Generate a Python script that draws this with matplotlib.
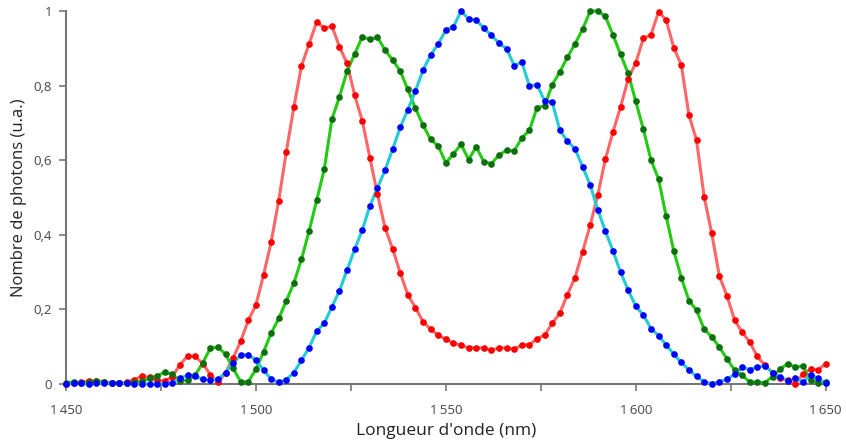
import matplotlib
matplotlib.use("Agg")
import matplotlib.pyplot as plt
import numpy as np
from matplotlib.ticker import FuncFormatter, MultipleLocator

plt.rcParams['font.family'] = ['Open Sans', 'DejaVu Sans']

# wavelength grid (nm), one sample every 2 nm
wavelength = np.arange(1450, 1651, 2)

red = [0.000, 0.002, 0.005, 0.008, 0.008, 0.006, 0.003, 0.002, 0.005, 0.012,
       0.021, 0.018, 0.010, 0.008, 0.020, 0.052, 0.075, 0.074, 0.055, 0.025,
       0.005, 0.030, 0.070, 0.115, 0.171, 0.212, 0.292, 0.380, 0.492, 0.623,
       0.743, 0.853, 0.912, 0.971, 0.954, 0.960, 0.904, 0.860, 0.774, 0.706,
       0.607, 0.509, 0.419, 0.362, 0.298, 0.239, 0.205, 0.167, 0.147, 0.131,
       0.120, 0.109, 0.105, 0.096, 0.098, 0.096, 0.091, 0.097, 0.097, 0.093,
       0.105, 0.105, 0.122, 0.131, 0.163, 0.190, 0.240, 0.285, 0.355, 0.426,
       0.507, 0.603, 0.676, 0.743, 0.818, 0.861, 0.927, 0.936, 0.998, 0.976,
       0.902, 0.855, 0.721, 0.654, 0.502, 0.404, 0.290, 0.237, 0.172, 0.139,
       0.113, 0.074, 0.050, 0.031, 0.017, 0.010, 0.000, 0.027, 0.040, 0.038,
       0.055]

green = [0.003, 0.006, 0.004, 0.005, 0.009, 0.006, 0.002, 0.002, 0.003, 0.005,
         0.008, 0.015, 0.022, 0.032, 0.026, 0.009, 0.010, 0.024, 0.057, 0.096,
         0.099, 0.080, 0.042, 0.006, 0.006, 0.040, 0.086, 0.136, 0.176, 0.223,
         0.271, 0.335, 0.410, 0.493, 0.576, 0.710, 0.770, 0.839, 0.885, 0.931,
         0.924, 0.930, 0.895, 0.869, 0.839, 0.790, 0.739, 0.694, 0.656, 0.638,
         0.593, 0.617, 0.643, 0.602, 0.636, 0.596, 0.591, 0.614, 0.627, 0.625,
         0.660, 0.680, 0.741, 0.746, 0.802, 0.837, 0.876, 0.912, 0.951, 1.000,
         1.000, 0.986, 0.936, 0.884, 0.833, 0.758, 0.683, 0.601, 0.550, 0.450,
         0.357, 0.285, 0.224, 0.198, 0.147, 0.127, 0.099, 0.068, 0.038, 0.024,
         0.005, 0.005, 0.004, 0.020, 0.040, 0.055, 0.045, 0.049, 0.010, 0.004,
         0.006]

cyan = [0.000, 0.002, 0.002, 0.000, 0.002, 0.004, 0.004, 0.004, 0.002, 0.000,
        0.000, 0.000, 0.000, 0.000, 0.003, 0.015, 0.024, 0.022, 0.013, 0.011,
        0.013, 0.031, 0.056, 0.078, 0.079, 0.064, 0.038, 0.013, 0.005, 0.012,
        0.031, 0.064, 0.098, 0.142, 0.163, 0.207, 0.250, 0.306, 0.361, 0.413,
        0.477, 0.526, 0.574, 0.630, 0.688, 0.736, 0.786, 0.842, 0.882, 0.912,
        0.949, 0.958, 1.000, 0.979, 0.976, 0.954, 0.935, 0.914, 0.899, 0.854,
        0.863, 0.799, 0.803, 0.759, 0.756, 0.681, 0.651, 0.631, 0.583, 0.534,
        0.467, 0.410, 0.357, 0.300, 0.252, 0.209, 0.185, 0.149, 0.130, 0.105,
        0.080, 0.058, 0.038, 0.021, 0.006, 0.001, 0.006, 0.013, 0.026, 0.045,
        0.039, 0.046, 0.049, 0.030, 0.020, 0.008, 0.015, 0.005, 0.025, 0.015,
        0.002]

x_ticks = [1450, 1500, 1550, 1600, 1650]
y_ticks = [0, 0.2, 0.4, 0.6, 0.8, 1]

# (values, line colour, dot colour)
series = [
    (red, '#ff6666', '#ff0000'),
    (green, '#22cc11', '#0f6e0f'),
    (cyan, '#22ccd4', '#0000ff'),
]

fig = plt.figure(figsize=(8.46, 4.43), dpi=100)
ax = fig.add_axes([0.078, 0.133, 0.898, 0.842])

for vals, lc, dc in series:
    ax.plot(wavelength, vals, color=lc, lw=2.2, zorder=3, clip_on=False)
    ax.plot(wavelength, vals, ls='none', marker='o', ms=4.8, mec='none',
            mfc=dc, zorder=4, clip_on=False)

ax.set_xlim(1450, 1650)
ax.set_ylim(0, 1)
ax.set_xticks(x_ticks)
ax.xaxis.set_minor_locator(MultipleLocator(25))
ax.set_yticks(y_ticks)

ax.xaxis.set_major_formatter(FuncFormatter(lambda v, p: f"{int(v):,}".replace(",", "\u2009")))
ax.yaxis.set_major_formatter(FuncFormatter(lambda v, p: f"{v:g}".replace(".", ",")))

for side in ['top', 'right']:
    ax.spines[side].set_visible(False)
for side in ['left', 'bottom']:
    ax.spines[side].set_color('#777777')
    ax.spines[side].set_linewidth(1.5)

ax.tick_params(axis='both', which='major', direction='out', length=5, width=1.2,
               color='#777777', labelsize=9.5, labelcolor='#444444', pad=5)
ax.tick_params(axis='x', which='minor', direction='out', length=5, width=1.2,
               color='#777777')
ax.tick_params(axis='x', pad=9)

ax.set_xlabel("Longueur d'onde (nm)", fontsize=12.5, color='#222222', labelpad=5)
ax.set_ylabel("Nombre de photons (u.a.)", fontsize=12, color='#222222', labelpad=5)

fig.savefig("out.png", dpi=100)
